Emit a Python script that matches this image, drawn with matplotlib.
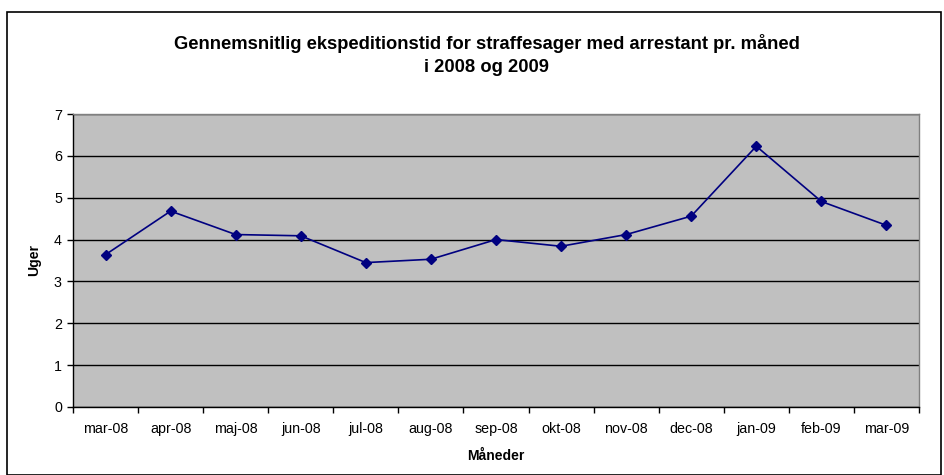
import matplotlib.pyplot as plt
import numpy as np
from matplotlib.patches import Rectangle

plt.rcParams['font.family'] = ['Liberation Sans', 'DejaVu Sans']

months = ["mar-08", "apr-08", "maj-08", "jun-08", "jul-08", "aug-08", "sep-08",
          "okt-08", "nov-08", "dec-08", "jan-09", "feb-09", "mar-09"]
weeks = [3.64, 4.68, 4.12, 4.09, 3.45, 3.53, 4.00, 3.84, 4.12, 4.56, 6.23, 4.91, 4.34]

fig = plt.figure(figsize=(9.44, 4.75), dpi=100)
ax = fig.add_axes([73 / 944, 1 - 407 / 475, 846 / 944, 293 / 475])

# outer chart border like in Excel
fig.patches.append(Rectangle((7 / 944, 0), 934 / 944, 1 - 12 / 475, transform=fig.transFigure,
                             fill=False, edgecolor="black", linewidth=1.2))

ax.set_facecolor("#c0c0c0")
x = np.arange(len(months))
ax.plot(x, weeks, color="#000080", linewidth=1.2, marker="D", markersize=5,
        markerfacecolor="#000080", zorder=3)

ax.set_xlim(-0.5, len(months) - 0.5)
ax.set_ylim(0, 7)
ax.set_yticks(range(0, 8))
ax.yaxis.grid(True, color="black", linewidth=1)
ax.set_axisbelow(True)

ax.set_xticks(x)
ax.set_xticklabels(months, fontsize=10.3)
ax.set_xticks(np.arange(-0.5, len(months)), minor=True)
ax.tick_params(axis="x", which="major", length=0, pad=11)
ax.tick_params(axis="x", which="minor", length=4, width=1, direction="out")
ax.tick_params(axis="y", length=4, width=1, labelsize=10.3, pad=4)

for side in ["top", "right"]:
    ax.spines[side].set_color("#808080")
    ax.spines[side].set_linewidth(1)
for side in ["left", "bottom"]:
    ax.spines[side].set_color("black")
    ax.spines[side].set_linewidth(1)

ax.set_ylabel("Uger", fontsize=10, fontweight="bold", labelpad=9)
ax.set_xlabel("Måneder", fontsize=10, fontweight="bold", labelpad=9)

fig.text(487 / 944, 1 - 55 / 475,
         "Gennemsnitlig ekspeditionstid for straffesager med arrestant pr. måned\ni 2008 og 2009",
         ha="center", va="center", fontsize=13.2, fontweight="bold", linespacing=1.5)

fig.savefig("out.png", dpi=100)
